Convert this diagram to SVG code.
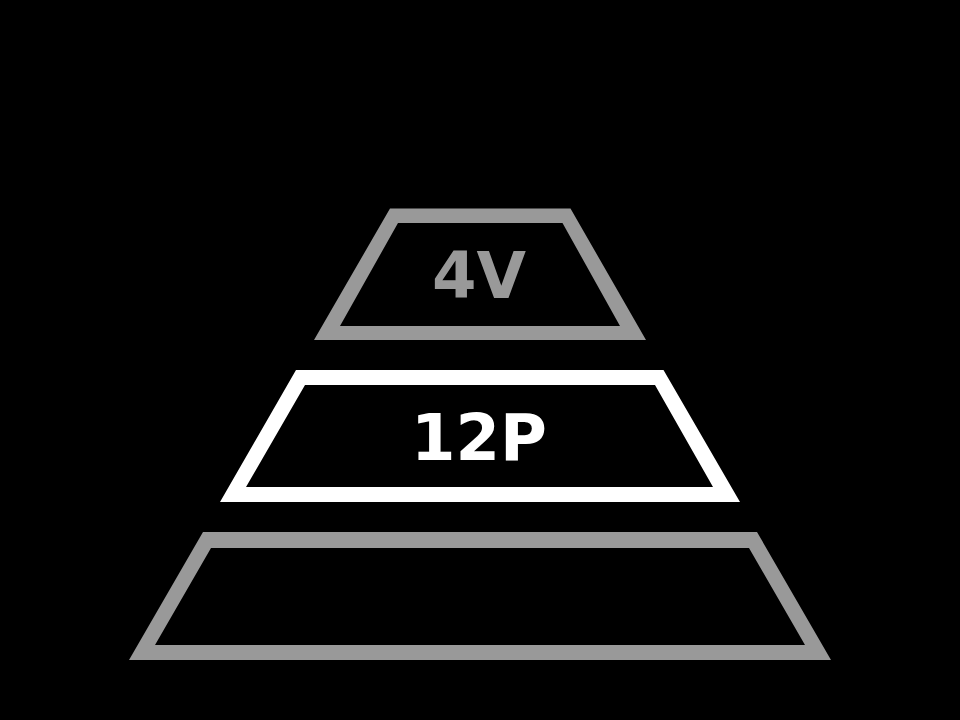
<svg xmlns="http://www.w3.org/2000/svg" width="960" height="720" viewBox="0 0 960 720">
<style>
.gray{fill:#999999;fill-rule:evenodd}
.white{fill:#ffffff;fill-rule:evenodd}
.lbl{font-family:"DejaVu Sans",sans-serif;font-weight:bold;font-size:64px;text-anchor:middle}
</style>
<rect width="960" height="720" fill="#000000"/>
<g id="tier-top">
<path class="gray" d="M390,208.5 L570.5,208.5 L646,340 L314,340 Z M398,223 L562.5,223 L620,326 L340,326 Z"/>
<text class="lbl" x="479" y="298" fill="#999999">4V</text>
</g>
<g id="tier-middle">
<path class="white" d="M296,370 L663.5,370 L740,502 L220,502 Z M305,385 L655,385 L713,487 L246,487 Z"/>
<text class="lbl" x="479" y="460" fill="#ffffff">12P</text>
</g>
<g id="tier-bottom">
<path class="gray" d="M203,532 L757,532 L831,660 L129,660 Z M211,548 L749,548 L805,645 L155,645 Z"/>
</g>
<g id="connectors"></g>
</svg>
